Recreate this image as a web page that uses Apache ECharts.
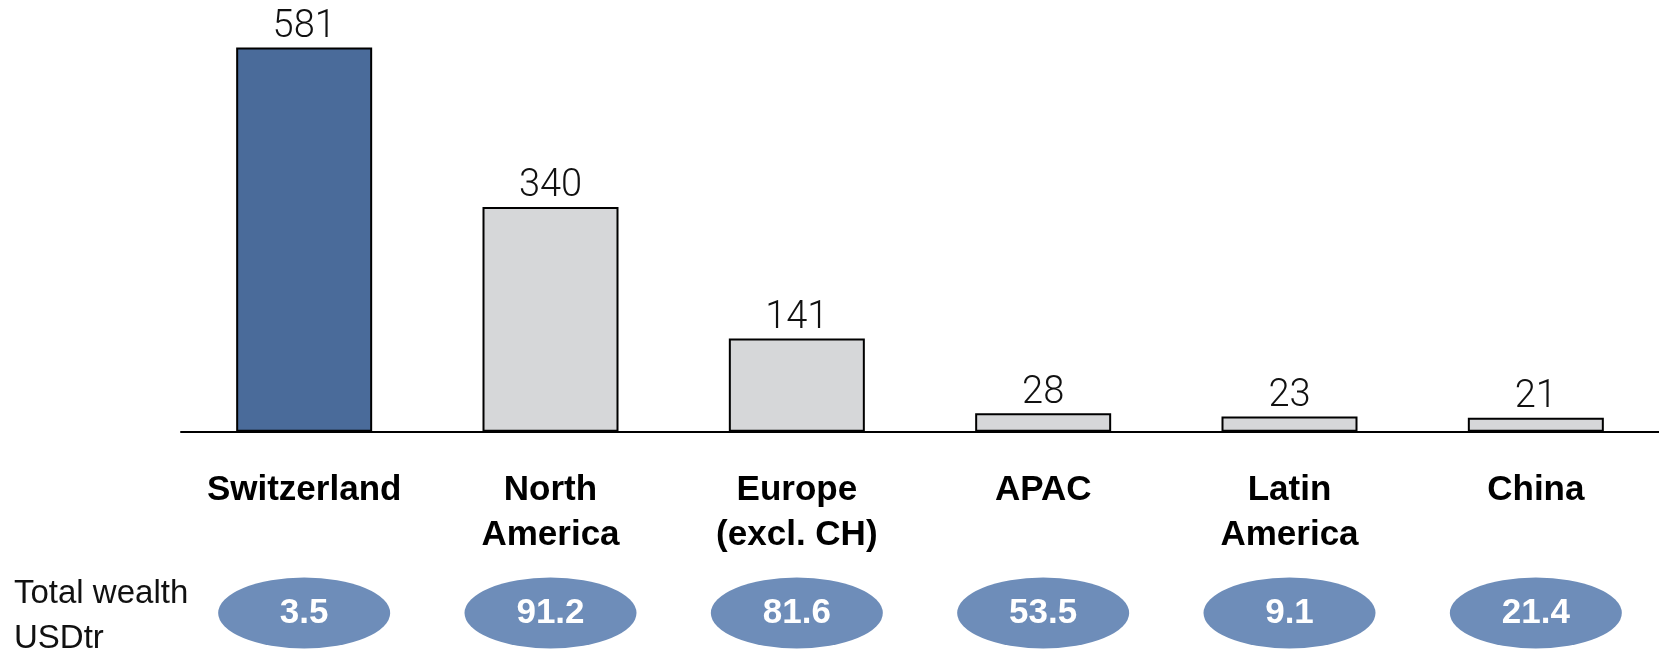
<!DOCTYPE html>
<html>
<head>
<meta charset="utf-8">
<title>Wealth per adult by region</title>
<script src="https://cdn.jsdelivr.net/npm/echarts@6/dist/echarts.min.js"></script>
<style>
  html, body { margin: 0; padding: 0; background: #fff; }
  #chart { width: 1659px; height: 651px; }
</style>
</head>
<body>
<div id="chart"></div>
<script>
// Regions, wealth per adult (bars) and total wealth in USD trillions (bubbles)
const regions = ['Switzerland', 'North\nAmerica', 'Europe\n(excl. CH)', 'APAC', 'Latin\nAmerica', 'China'];
const wealthPerAdult = [581, 340, 141, 28, 23, 21];
const totalWealthUSDtr = [3.5, 91.2, 81.6, 53.5, 9.1, 21.4];
const highlightRegion = 'Switzerland';

const FONT = '"Liberation Sans", Arial, Helvetica, sans-serif';
const LIGHT_FONT = 'Roboto, "Liberation Sans", Arial, sans-serif';
const DARK_BLUE = '#4a6b9a';
const LIGHT_GREY = '#d6d7d9';
const BUBBLE_BLUE = '#6e8db9';

// unit circle path, stretched by symbolSize into an ellipse
const ELLIPSE = 'path://M0,50 A50,50 0 1,1 100,50 A50,50 0 1,1 0,50 Z';

const chart = echarts.init(document.getElementById('chart'), null, { renderer: 'canvas' });

chart.setOption({
  animation: false,
  backgroundColor: '#ffffff',
  title: {
    text: 'Total wealth\nUSDtr',
    left: 14,
    top: 571,
    padding: 0,
    textStyle: {
      fontFamily: FONT,
      fontSize: 33,
      fontWeight: 'normal',
      color: '#111111',
      lineHeight: 45
    }
  },
  grid: [
    { left: 181, right: 0, top: 35, bottom: 219.3 },
    { left: 181, right: 0, top: 577.3, height: 71.4 }
  ],
  xAxis: [
    {
      type: 'category',
      gridIndex: 0,
      data: regions,
      axisLine: { show: true, lineStyle: { color: '#000', width: 2 } },
      axisTick: { show: false },
      axisLabel: {
        margin: 36,
        interval: 0,
        fontFamily: FONT,
        fontSize: 35,
        fontWeight: 'bold',
        color: '#000',
        lineHeight: 45
      }
    },
    {
      type: 'category',
      gridIndex: 1,
      data: regions,
      show: false
    }
  ],
  yAxis: [
    { type: 'value', gridIndex: 0, min: 0, max: 600, show: false, splitLine: { show: false } },
    { type: 'value', gridIndex: 1, min: -1, max: 1, show: false, splitLine: { show: false } }
  ],
  series: [
    {
      type: 'bar',
      xAxisIndex: 0,
      yAxisIndex: 0,
      barWidth: 136,
      data: wealthPerAdult.map((v, i) => ({
        value: v,
        itemStyle: { color: regions[i] === highlightRegion ? DARK_BLUE : LIGHT_GREY }
      })),
      itemStyle: { borderColor: '#000', borderWidth: 2 },
      label: {
        show: true,
        position: 'top',
        distance: 1,
        fontFamily: LIGHT_FONT,
        fontSize: 38,
        fontWeight: 300,
        color: '#111111'
      }
    },
    {
      type: 'scatter',
      xAxisIndex: 1,
      yAxisIndex: 1,
      symbol: ELLIPSE,
      symbolSize: [172, 71],
      symbolKeepAspect: false,
      itemStyle: { color: BUBBLE_BLUE, opacity: 1 },
      data: totalWealthUSDtr.map((v, i) => [i, 0, v]),
      label: {
        show: true,
        position: 'inside',
        formatter: p => p.value[2].toFixed(1),
        fontFamily: FONT,
        fontSize: 35,
        fontWeight: 'bold',
        color: '#ffffff'
      },
      emphasis: { disabled: true }
    }
  ]
});
</script>
</body>
</html>
